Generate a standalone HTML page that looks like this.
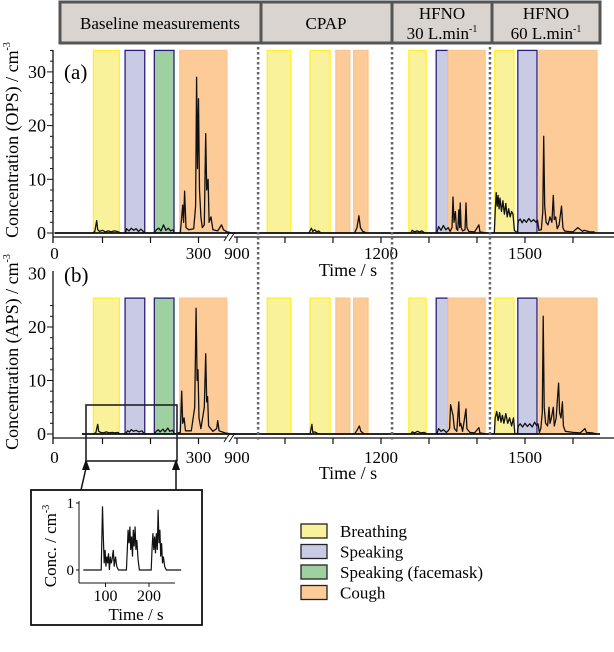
<!DOCTYPE html>
<html><head><meta charset="utf-8">
<style>
html,body{margin:0;padding:0;background:#fff;}
svg{display:block;font-family:"Liberation Serif",serif;}
</style></head>
<body>
<svg id="chart" width="614" height="652" viewBox="0 0 614 652" xmlns="http://www.w3.org/2000/svg">
  <g id="header">
    <rect x="60" y="2" width="201" height="41" fill="#d9d4cf" stroke="#555" stroke-width="3"/>
    <rect x="261" y="2" width="131" height="41" fill="#d9d4cf" stroke="#555" stroke-width="3"/>
    <rect x="392" y="2" width="100" height="41" fill="#d9d4cf" stroke="#555" stroke-width="3"/>
    <rect x="492" y="2" width="108" height="41" fill="#d9d4cf" stroke="#555" stroke-width="3"/>
    <text x="160" y="29" font-size="17" text-anchor="middle">Baseline measurements</text>
    <text x="326" y="29" font-size="17" text-anchor="middle">CPAP</text>
    <text x="442" y="19" font-size="17" text-anchor="middle">HFNO</text>
    <text x="442" y="39" font-size="17" text-anchor="middle">30 L.min<tspan font-size="10" dy="-7">-1</tspan></text>
    <text x="546" y="19" font-size="17" text-anchor="middle">HFNO</text>
    <text x="546" y="39" font-size="17" text-anchor="middle">60 L.min<tspan font-size="10" dy="-7">-1</tspan></text>
  </g>
  <g id="plots"></g>
  <g id="inset"></g>
  <g id="legend"></g>
</svg>
<script>
const regionStart = [81, 147, 208, 261, 963, 1052, 1106, 1143, 1258, 1315, 1340, 1437, 1485, 1529];
const regionEnd   = [135, 188, 249, 359, 1012, 1094, 1135, 1173, 1294, 1340, 1417, 1477, 1525, 1650];
const regionType  = ['breathing','speaking','facemask','cough','breathing','breathing','cough','cough','breathing','speaking','cough','breathing','speaking','cough'];
const phaseDividers = [944, 1223, 1427];

const opsT = [0,80,84,88,90,94,100,106,112,118,124,130,136,140,148,150,155,160,165,170,175,180,186,190,208,212,217,222,227,232,237,242,247,250,262,265,267,269,271,274,280,290,294,296,298,300,302,305,308,312,315,317,320,322,326,330,340,348,352,360,370,
 890,1050,1055,1058,1062,1066,1070,1075,1145,1150,1154,1157,1162,1170,1262,1265,1270,1275,1280,1285,1290,1295,1316,1320,1325,1330,1335,1340,1344,1348,1350,1352,1355,1357,1360,1362,1364,1365,1367,1370,1375,1377,1379,1383,1395,1404,1406,1420,1436,1438,1440,1442,1444,1446,1448,1451,1454,1457,1460,1463,1466,1469,1472,1475,1478,1484,1486,1490,1494,1498,1503,1508,1513,1518,1523,1526,1529,1534,1537,1539,1541,1544,1548,1552,1556,1559,1561,1564,1567,1571,1576,1579,1582,1587,1600,1610,1620,1623,1635,1645,1653];
const opsV = [0,0,0.3,2.3,0.6,0.3,0.5,0.2,0.4,0.2,0.4,0.3,0.1,0,0,0.8,0.4,0.9,0.5,0.8,0.3,0.7,0.2,0,0,0.6,0.9,0.4,1.5,0.5,0.9,0.4,0.6,0,0,3,5.2,2,7.8,1,0.6,0.8,5,29,12,25,8,3,1,1.5,18.5,8,10,2,3,0.6,0.4,1.5,0.6,0.2,0,
 0,0,0.9,0.3,0.6,0.2,0.4,0,0,1,3.2,1,0.3,0,0,0.5,0.2,0.4,0.2,0.4,0.1,0,0,1.2,0.5,1.4,0.6,1,0.3,1,6.7,2,4,0.8,0.5,4.3,1,5.6,1,0.4,0.6,5.6,1,0.3,0.2,1.5,0.2,0,0,4,7.5,5,7,4.5,6.5,4,6,3.5,5.5,3,4.5,3,4,3.5,0.5,0,2.2,2.6,1.9,2.5,2,2.7,2.1,2.5,2,2.4,0.5,0.6,4,18,5,2,1.5,3,2,7,2.5,3,0.8,1.5,5,1,0.4,0.3,0.2,1,0.3,0.5,0.2,0.2];

const apsT = [57,80,86,90,92,96,102,108,114,120,126,132,136,148,152,156,160,165,170,176,182,188,208,212,216,220,226,230,236,240,246,250,262,265,267,270,273,285,292,295,297,299,301,305,312,315,317,319,321,330,338,340,343,355,370,
 890,1052,1056,1058,1062,1068,1075,1145,1150,1155,1158,1165,1262,1265,1270,1276,1283,1290,1296,1316,1320,1325,1330,1336,1340,1343,1345,1350,1353,1358,1362,1364,1366,1370,1377,1379,1385,1395,1404,1406,1420,1436,1438,1441,1444,1447,1450,1453,1456,1460,1464,1468,1472,1476,1479,1484,1486,1490,1495,1500,1505,1510,1515,1520,1524,1527,1530,1533,1536,1538,1540,1543,1547,1550,1552,1555,1559,1561,1565,1568,1570,1572,1575,1578,1580,1584,1600,1615,1625,1628,1640,1650];
const apsV = [0,0,0.2,1.8,0.5,0.3,0.2,0.4,0.2,0.3,0.2,0.3,0,0,0.6,0.4,0.8,0.5,0.7,0.4,0.6,0,0,0.5,0.8,0.4,0.9,0.4,1.1,0.5,0.7,0,0.3,8,2,3,0.6,0.6,5,23.5,10,12,3,1,5,15,6,7,1.5,0.5,1,2.5,0.6,0.2,0,
 0,0,1.8,0.3,0.4,0.1,0,0,0.7,1.5,0.5,0,0,0.4,0.2,0.5,0.2,0.3,0,0,1,0.5,0.8,0.3,0.6,1,5.5,3.5,1,0.5,6,1.5,2,0.5,4.7,1,0.3,0.2,1.2,0.2,0,0,3,4.2,2.5,4,2.2,3.5,2,3.8,2,3,1.5,3,0,0,1.5,1.9,1.3,2,1.4,1.9,1.3,2.2,1.6,1.9,0.3,1,4,22,5,2,1.5,5,2,3,5,1.5,3,7,9.5,4,3,6,1.5,0.5,0.3,0.2,1,0.3,0.2,0];

const insetT = [49,90,93,95,97,99,101,103,105,107,109,111,113,115,118,120,123,126,130,148,150,152,154,156,158,160,162,164,166,168,170,172,175,178,205,207,209,211,213,215,217,219,221,223,225,227,229,231,233,236,240,274];
const insetV = [0,0,0.95,0.5,0.1,0.3,0.05,0.2,0.1,0.25,0,0.2,0.1,0.15,0.3,0.05,0.2,0.05,0,0,0.3,0.6,0.4,0.65,0.3,0.5,0.2,0.6,0.35,0.65,0.3,0.45,0.15,0,0,0.3,0.55,0.3,0.5,0.25,0.55,0.3,0.9,0.4,0.6,0.2,0.4,0.1,0.2,0.05,0,0];

const yTickVals = [0,10,20,30];
const preTicks = [100,200,300];
const postTicks = [900,1000,1100,1200,1300,1400,1500,1600];
const xTickLabels = ['0','300','900','1200','1500'];
const xTickLabelTimes = [0,300,900,1200,1500];
const insetXTicks = [100,200];
const insetYTicks = [0,1];
const legendLabels = ['Breathing','Speaking','Speaking (facemask)','Cough'];
const legendTypes = ['breathing','speaking','facemask','cough'];

const NS = 'http://www.w3.org/2000/svg';
const fills = {breathing:'#f9f29b',speaking:'#c9cbe4',facemask:'#9fd0a0',cough:'#fdcb98'};
const strokes = {breathing:'#fff02a',speaking:'#2b1e78',facemask:'#2b1e78',cough:'#f9c592'};
function xs(t){ return t < 600 ? 54.5 + t*0.48 : 237 + (t-900)*0.48; }
function mk(tag, attrs, parent){ const e=document.createElementNS(NS,tag); for(const k in attrs) e.setAttribute(k,attrs[k]); parent.appendChild(e); return e; }
const plots = document.getElementById('plots');

const panels = [
  {name:'ops', zero:233, k:5.37, top:34, axisY:237, axisTop:50, T:opsT, V:opsV, label:'(a)', lblY:79, title:'Concentration (OPS) / cm', titleY:140, tickLblY:259, timeY:276, baseStart:54.5, baseEnd:614},
  {name:'aps', zero:434, k:5.35, top:25.4, axisY:438, axisTop:271, T:apsT, V:apsV, label:'(b)', lblY:282, title:'Concentration (APS) / cm', titleY:352, tickLblY:463, timeY:479, baseStart:82, baseEnd:600}
];
panels.forEach(function(p){
  const g = mk('g',{},plots);
  
  
  const ys = v => p.zero - v*p.k;
  regionStart.forEach(function(s,i){
    const r = mk('rect',{x:xs(s),y:ys(p.top),width:xs(regionEnd[i])-xs(s),height:ys(0)-ys(p.top),fill:fills[regionType[i]],stroke:strokes[regionType[i]],'stroke-width':1.3},g);
    
    
  });
  const bl = mk('line',{x1:p.baseStart,x2:p.baseEnd,y1:ys(0),y2:ys(0),stroke:'#111','stroke-width':1.8},g);
  
  
  let d1='', d2='';
  p.T.forEach(function(t,i){
    const pt = xs(t).toFixed(1)+','+ys(p.V[i]).toFixed(1);
    if(t<600) d1 += (d1?'L':'M')+pt; else d2 += (d2?'L':'M')+pt;
  });
  [d1,d2].forEach(function(d){
    const path = mk('path',{d:d,fill:'none',stroke:'#111','stroke-width':1.3,'stroke-linejoin':'round'},g);
    
    
  });
  const xa = mk('line',{x1:53,x2:614,y1:p.axisY,y2:p.axisY,stroke:'#111','stroke-width':1.3},g);
  
  
  const ya = mk('line',{x1:53,x2:53,y1:p.axisTop,y2:p.axisY+6,stroke:'#111','stroke-width':1.3},g);
  
  
  for(let v=0; v<=p.top; v+=2){
    mk('line',{x1:(v%10===0)?47:50,x2:53,y1:ys(v),y2:ys(v),stroke:'#111','stroke-width':1},g);
  }
  yTickVals.forEach(function(v){
    const t = mk('text',{x:46,y:ys(v)+6,'font-size':18,'text-anchor':'end'},g);
    t.textContent = v;
    
    
  });
  preTicks.concat(postTicks).forEach(function(t){
    mk('line',{x1:xs(t),x2:xs(t),y1:p.axisY,y2:p.axisY+6,stroke:'#111','stroke-width':1.2},g);
  });
  xTickLabels.forEach(function(l,i){
    const t = mk('text',{x:xs(xTickLabelTimes[i]),y:p.tickLblY,'font-size':17,'text-anchor':'middle'},g);
    t.textContent = l;
    
    
  });
  mk('rect',{x:226,y:p.axisY-2,width:8,height:5,fill:'#fff'},g);
  mk('line',{x1:224,x2:230,y1:p.axisY+4,y2:p.axisY-5,stroke:'#111','stroke-width':1},g);
  mk('line',{x1:229,x2:235,y1:p.axisY+4,y2:p.axisY-5,stroke:'#111','stroke-width':1},g);
  const xt = mk('text',{x:348,y:p.timeY,'font-size':18,'text-anchor':'middle'},g);
  xt.textContent = 'Time / s';
  
  
  const pl = mk('text',{x:64,y:p.lblY,'font-size':21},g);
  pl.textContent = p.label;
  
  
  const yt = mk('text',{x:0,y:0,'font-size':18,'text-anchor':'middle',transform:'translate(18,'+p.titleY+') rotate(-90)'},g);
  yt.textContent = p.title;
  const sup = mk('tspan',{'font-size':10,dy:-8},yt);
  sup.textContent = '-3';
  
  
});
phaseDividers.forEach(function(t){
  const l = mk('line',{x1:xs(t),x2:xs(t),y1:47,y2:440,stroke:'#666','stroke-width':2.5,'stroke-dasharray':'2.5,2.5'},plots);
  
  
});
const zb = mk('rect',{x:86,y:405,width:91,height:56,fill:'none',stroke:'#222','stroke-width':1.6},plots);


[[81,86],[176,176]].forEach(function(a){
  mk('line',{x1:a[0],y1:490,x2:a[1],y2:468,stroke:'#111','stroke-width':1.5},plots);
  const h = mk('polygon',{points:(a[1]-4)+',470 '+(a[1]+4)+',470 '+a[1]+',459',fill:'#111'},plots);
  
  
});
const ig = document.getElementById('inset');
const ix = t => 62 + t*0.435;
const iy = v => 570 - v*67;
mk('rect',{x:31,y:490,width:171,height:135,fill:'#fff',stroke:'#111','stroke-width':1.8},ig);
mk('line',{x1:79,x2:79,y1:501,y2:583,stroke:'#111','stroke-width':1},ig);
mk('line',{x1:79,x2:175,y1:583,y2:583,stroke:'#111','stroke-width':1},ig);
insetYTicks.forEach(function(v){
  mk('line',{x1:76,x2:79,y1:iy(v),y2:iy(v),stroke:'#111'},ig);
  const t = mk('text',{x:74,y:iy(v)+5,'font-size':15,'text-anchor':'end'},ig);
  t.textContent = v;
  
  
});
insetXTicks.forEach(function(v){
  mk('line',{x1:ix(v),x2:ix(v),y1:583,y2:587,stroke:'#111'},ig);
  const t = mk('text',{x:ix(v),y:601,'font-size':16,'text-anchor':'middle'},ig);
  t.textContent = v;
  
  
});
let di='';
insetT.forEach(function(t,i){ di += (i?'L':'M')+ix(t).toFixed(1)+','+iy(insetV[i]).toFixed(1); });
const ip = mk('path',{d:di,fill:'none',stroke:'#111','stroke-width':1.2},ig);


const it = mk('text',{x:136,y:620,'font-size':17,'text-anchor':'middle'},ig);
it.textContent = 'Time / s';


const iyt = mk('text',{x:0,y:0,'font-size':17,'text-anchor':'middle',transform:'translate(56,546) rotate(-90)'},ig);
iyt.textContent = 'Conc. / cm';
const isup = mk('tspan',{'font-size':10,dy:-7},iyt);
isup.textContent = '-3';


const lg = document.getElementById('legend');
legendLabels.forEach(function(l,i){
  const y = 531 + i*20.5;
  const r = mk('rect',{x:301,y:y-7,width:26,height:14,fill:fills[legendTypes[i]],stroke:'#222','stroke-width':1.3},lg);
  
  
  const t = mk('text',{x:340,y:y+6,'font-size':17},lg);
  t.textContent = l;
  
  
});
</script>
</body></html>
